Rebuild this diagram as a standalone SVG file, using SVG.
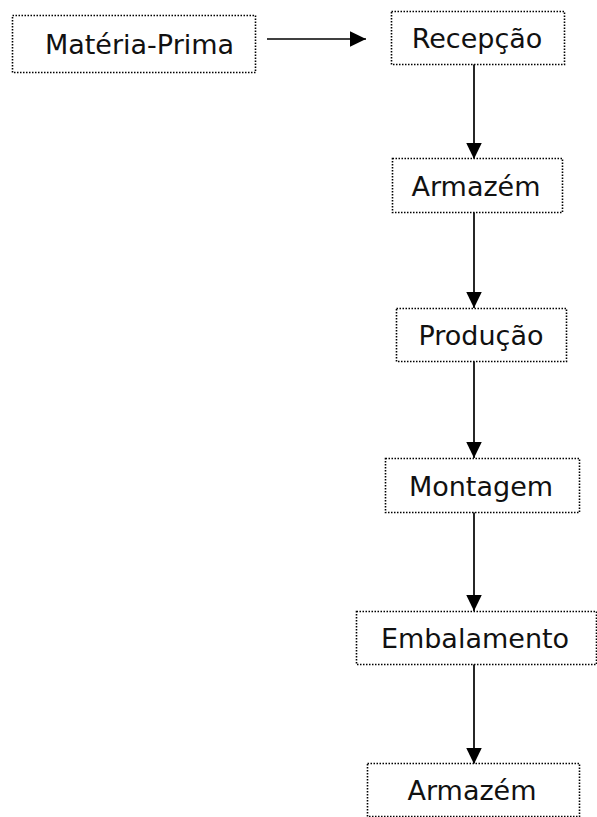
<svg xmlns="http://www.w3.org/2000/svg" width="597" height="817" viewBox="0 0 597 817">
  <style>
    .box { fill: #ffffff; stroke: #000000; stroke-width: 1.6; stroke-dasharray: 1.5 1.5; }
    .label { font-family: "DejaVu Sans", Verdana, sans-serif; font-size: 27px; fill: #111111; text-anchor: middle; }
    .flow { stroke: #000000; stroke-width: 1.7; fill: none; marker-end: url(#arrow); }
  </style>
  <defs>
    <marker id="arrow" markerUnits="userSpaceOnUse" markerWidth="17" markerHeight="17" viewBox="0 0 17 17" refX="16.5" refY="8.5" orient="auto">
      <path d="M0,0.5 L16.5,8.5 L0,16.5 Z" fill="#000000"/>
    </marker>
  </defs>

  <rect width="597" height="817" fill="#ffffff"/>

  <g id="connectors">
    <line class="flow" x1="267" y1="39" x2="366" y2="39"/>
    <line class="flow" x1="474" y1="64" x2="474" y2="159"/>
    <line class="flow" x1="474" y1="212" x2="474" y2="308"/>
    <line class="flow" x1="474" y1="361" x2="474" y2="458"/>
    <line class="flow" x1="474" y1="512" x2="474" y2="611"/>
    <line class="flow" x1="474" y1="664" x2="474" y2="764"/>
  </g>

  <g id="materia-prima">
    <rect class="box" x="12.5" y="15.5" width="243" height="57"/>
    <text class="label" x="139.5" y="53.5">Matéria-Prima</text>
  </g>

  <g id="recepcao">
    <rect class="box" x="391.5" y="11.5" width="173" height="53"/>
    <text class="label" x="477" y="47.5">Recepção</text>
  </g>

  <g id="armazem-1">
    <rect class="box" x="392.5" y="158.5" width="170" height="54"/>
    <text class="label" x="476" y="195.5">Armazém</text>
  </g>

  <g id="producao">
    <rect class="box" x="396.5" y="308.5" width="170" height="53"/>
    <text class="label" x="481" y="344.5">Produção</text>
  </g>

  <g id="montagem">
    <rect class="box" x="385.5" y="458.5" width="194" height="54"/>
    <text class="label" x="481" y="495.5">Montagem</text>
  </g>

  <g id="embalamento">
    <rect class="box" x="356.5" y="611.5" width="240" height="53"/>
    <text class="label" x="475" y="647.5">Embalamento</text>
  </g>

  <g id="armazem-2">
    <rect class="box" x="367.5" y="763.5" width="212" height="53"/>
    <text class="label" x="472" y="799.5">Armazém</text>
  </g>
</svg>
